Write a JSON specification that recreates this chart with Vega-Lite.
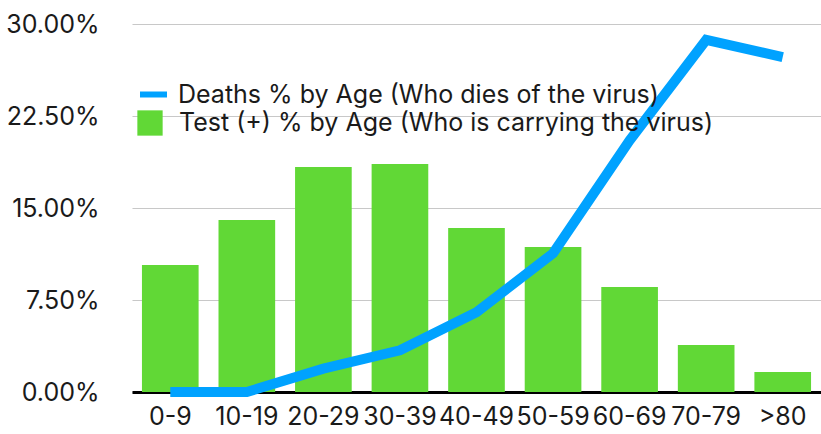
{
  "$schema": "https://vega.github.io/schema/vega-lite/v6.json",
  "width": 689,
  "height": 368,
  "autosize": "none",
  "padding": {"left": 132, "top": 24, "right": 0, "bottom": 42},
  "background": "white",
  "config": {
    "view": {"stroke": null},
    "font": "Inter",
    "axis": {"labelFont": "Inter", "labelFontSize": 25, "labelColor": "#1a1a1a"},
    "legend": {"labelFont": "Inter", "labelFontSize": 25, "labelColor": "#1a1a1a", "padding": 0, "labelLimit": 700}
  },
  "data": {
    "values": [
      {"age": "0-9", "test": 0.1035, "deaths": 0.0},
      {"age": "10-19", "test": 0.1402, "deaths": 0.0},
      {"age": "20-29", "test": 0.1834, "deaths": 0.019},
      {"age": "30-39", "test": 0.1859, "deaths": 0.034},
      {"age": "40-49", "test": 0.1337, "deaths": 0.065},
      {"age": "50-59", "test": 0.1182, "deaths": 0.113},
      {"age": "60-69", "test": 0.0856, "deaths": 0.205},
      {"age": "70-79", "test": 0.0383, "deaths": 0.287},
      {"age": ">80", "test": 0.0163, "deaths": 0.273}
    ]
  },
  "encoding": {
    "x": {
      "field": "age", "type": "nominal", "sort": null,
      "scale": {"paddingInner": 0.26, "paddingOuter": 0.13},
      "axis": {"title": null, "labelAngle": 0, "ticks": false, "domainColor": "#000000", "domainWidth": 3, "labelPadding": 12, "grid": false}
    }
  },
  "layer": [
    {
      "mark": {"type": "bar"},
      "encoding": {
        "y": {
          "field": "test", "type": "quantitative",
          "scale": {"domain": [0, 0.3], "nice": false},
          "axis": {"title": null, "format": ".2%", "values": [0, 0.075, 0.15, 0.225, 0.3], "ticks": false, "domain": false, "labelPadding": 33, "gridColor": "#C8C8C8", "gridWidth": 1.2}
        },
        "fill": {
          "datum": "Test (+) % by Age (Who is carrying the virus)",
          "scale": {"range": ["#61D836"]},
          "legend": {"title": null, "orient": "none", "legendX": 5, "legendY": 86, "symbolType": "square", "symbolSize": 640, "symbolStrokeWidth": 0, "labelOffset": 16, "symbolOpacity": 1}
        }
      }
    },
    {
      "mark": {"type": "line", "strokeWidth": 10, "strokeCap": "butt", "strokeJoin": "miter"},
      "encoding": {
        "y": {"field": "deaths", "type": "quantitative"},
        "stroke": {
          "datum": "Deaths % by Age (Who dies of the virus)",
          "scale": {"range": ["#00A2FF"]},
          "legend": {"title": null, "orient": "none", "legendX": 5, "legendY": 54, "symbolType": "stroke", "symbolSize": 729, "symbolStrokeWidth": 6, "labelOffset": 8}
        }
      }
    }
  ]
}
